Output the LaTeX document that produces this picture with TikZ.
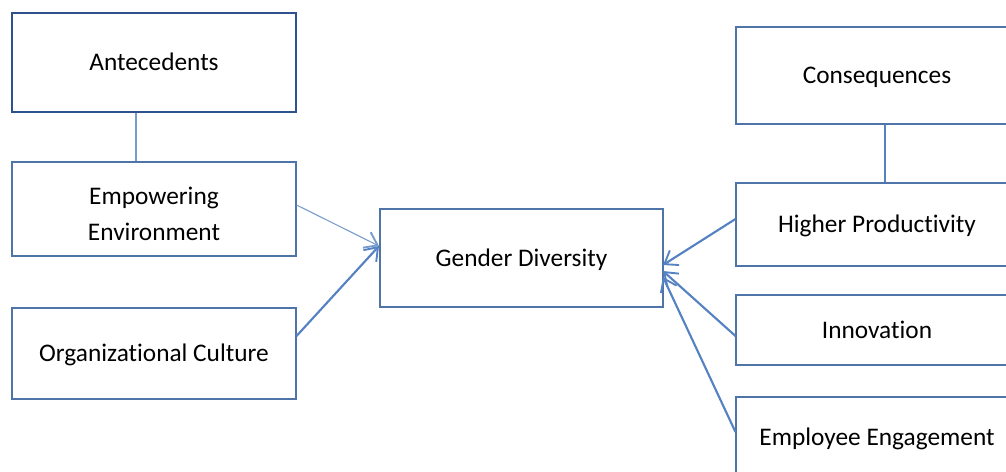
\documentclass[tikz,border=0pt]{standalone}
\usepackage{fontspec}
\setmainfont[Ligatures=NoCommon]{Carlito}
\usetikzlibrary{arrows.meta}
\definecolor{boxline}{RGB}{79,117,168}
\definecolor{darkline}{RGB}{47,82,143}
\definecolor{arrowc}{RGB}{84,130,194}
\definecolor{connc}{RGB}{120,155,205}
\begin{document}
\begin{tikzpicture}[x=0.75pt,y=-0.75pt,
  box/.style={draw=boxline,line width=0.8pt,fill=white,rectangle,inner sep=0pt,align=center,
    font=\fontsize{19}{26.6}\selectfont,text height=12.2pt,text depth=0pt},
  arr/.style={draw=arrowc,line width=1.6pt,-{Straight Barb[length=9pt,width=13pt,line width=1.4pt]}},
  conn/.style={draw=connc,line width=1pt}]
\useasboundingbox (0,0) rectangle (1006,471);
\clip (0,0) rectangle (1006,471);
% left column
\node[box,draw=darkline,line width=1.6pt,minimum width=284*0.75pt,minimum height=99*0.75pt] (ant) at (154,62.5) {Antecedents};
\node[box,minimum width=284*0.75pt,minimum height=94*0.75pt,text height=47pt] (emp) at (154,209) {Empowering\\Environment};
\node[box,minimum width=284*0.75pt,minimum height=91*0.75pt] (org) at (154,353.5) {Organizational Culture};
% centre
\node[box,minimum width=283*0.75pt,minimum height=98*0.75pt] (gd) at (521.5,258) {Gender Diversity};
% right column
\node[box,minimum width=282*0.75pt,minimum height=97*0.75pt] (con) at (877,75.5) {Consequences};
\node[box,minimum width=282*0.75pt,minimum height=83*0.75pt] (hp) at (877,224.5) {Higher Productivity};
\node[box,minimum width=282*0.75pt,minimum height=70*0.75pt] (inn) at (877,330) {Innovation};
\node[box,minimum width=282*0.75pt,minimum height=80*0.75pt] (ee) at (877,437) {Employee Engagement};
% connector lines
\coordinate (cl) at (136,0);
\coordinate (cr) at (885,0);
\draw[conn] (ant.south -| cl) -- (emp.north -| cl);
\draw[draw=arrowc,line width=1.2pt] (con.south -| cr) -- (hp.north -| cr);
% arrows
\coordinate (gl) at (379,246);
\coordinate (gr1) at (663,265);
\coordinate (gr2) at (663,271);
\coordinate (gr3) at (663,277);
\coordinate (e1) at (296,205);
\coordinate (o1) at (296,336);
\coordinate (h1) at (736,219);
\coordinate (i1) at (736,336);
\coordinate (x1) at (736,432);
\draw[arr,line width=0.8pt,draw=connc] (emp.east |- e1) -- (gl);
\draw[arr] (org.east |- o1) -- (gl);
\draw[arr] (hp.west |- h1) -- (gr1);
\draw[arr] (inn.west |- i1) -- (gr2);
\draw[arr] (ee.west |- x1) -- (gr3);
\end{tikzpicture}
\end{document}
